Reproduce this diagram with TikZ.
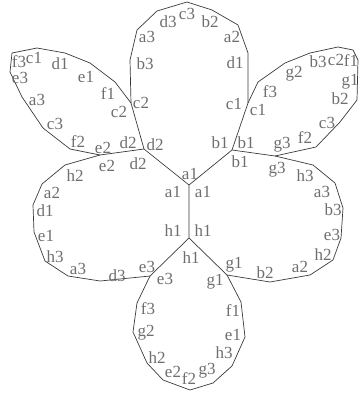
\documentclass[tikz,border=0pt]{standalone}
\usepackage{fontspec}
\setmainfont{Liberation Serif}
\usepackage{tikz}
\definecolor{flink}{HTML}{3A3A3A}
\definecolor{flgrey}{HTML}{6E6E6E}

\begin{document}
\begin{tikzpicture}[
  x=1pt,y=-1pt,
  edge/.style={draw=flink,line width=0.7pt,line join=round},
  lbl/.style={text=flgrey,inner sep=0pt,font=\fontsize{17}{17}\selectfont}
]
\useasboundingbox (0,0) rectangle (360,393);
% junctions and shared corners
\coordinate (a) at (189,185);
\coordinate (h) at (189,238);
\coordinate (d) at (144,149);
\coordinate (b) at (232,150);
\coordinate (e) at (150,276);
\coordinate (g) at (227,275);
\coordinate (c2) at (131,103);
\coordinate (c1) at (248,103);
\coordinate (e2) at (100,155);
\coordinate (g3) at (275,156);
% top petal
\coordinate (tb3) at (130,60);
\coordinate (ta3) at (137,30);
\coordinate (td3) at (157,11);
\coordinate (tc3) at (187,2);
\coordinate (tb2) at (212,10);
\coordinate (ta2) at (238,25);
\coordinate (td1) at (248,53);
% upper left petal
\coordinate (ulf1) at (115,82);
\coordinate (ule1) at (90,63);
\coordinate (uld1) at (65,53);
\coordinate (ulc1) at (37,48);
\coordinate (ulf3) at (12,53);
\coordinate (ule3) at (10,72);
\coordinate (ula3) at (22,97);
\coordinate (ulc3) at (43,128);
\coordinate (ulf2) at (70,149);
% left petal
\coordinate (lh2) at (65,165);
\coordinate (la2) at (42,184);
\coordinate (ld1) at (33,205);
\coordinate (le1) at (34,232);
\coordinate (lh3) at (45,261);
\coordinate (la3) at (68,276);
\coordinate (ld3) at (100,281);
% bottom petal
\coordinate (btf3) at (137,303);
\coordinate (btg2) at (133,332);
\coordinate (bth2) at (147,363);
\coordinate (bte2) at (163,380);
\coordinate (btf2) at (190,390);
\coordinate (btg3) at (213,383);
\coordinate (bth3) at (232,366);
\coordinate (bte1) at (245,337);
\coordinate (btf1) at (241,302);
% right petal
\coordinate (rb2) at (270,282);
\coordinate (ra2) at (310,275);
\coordinate (rh2) at (333,260);
\coordinate (re3) at (341,238);
\coordinate (rb3) at (343,208);
\coordinate (ra3) at (335,183);
\coordinate (rh3) at (313,165);
% upper right petal
\coordinate (urf2) at (316,147);
\coordinate (urc3) at (340,122);
\coordinate (urb2) at (357,100);
\coordinate (urg1) at (358,60);
\coordinate (urf1) at (353,50);
\coordinate (urc2) at (338,47);
\coordinate (urb3) at (310,53);
\coordinate (urg2) at (285,63);
\coordinate (urf3) at (258,82);

\draw[edge] (d) -- (c2) -- (tb3) -- (ta3) -- (td3) -- (tc3) -- (tb2) -- (ta2) -- (td1) -- (c1) -- (b) -- (a) -- (d) -- (e2)
  -- (lh2) -- (la2) -- (ld1) -- (le1) -- (lh3) -- (la3) -- (ld3) -- (e) -- (h) -- (a);
\draw[edge] (c2) -- (ulf1) -- (ule1) -- (uld1) -- (ulc1) -- (ulf3) -- (ule3) -- (ula3) -- (ulc3) -- (ulf2) -- (e2);
\draw[edge] (e) -- (btf3) -- (btg2) -- (bth2) -- (bte2) -- (btf2) -- (btg3) -- (bth3) -- (bte1) -- (btf1) -- (g) -- (h);
\draw[edge] (g) -- (rb2) -- (ra2) -- (rh2) -- (re3) -- (rb3) -- (ra3) -- (rh3) -- (g3) -- (b);
\draw[edge] (g3) -- (urf2) -- (urc3) -- (urb2) -- (urg1) -- (urf1) -- (urc2) -- (urb3) -- (urg2) -- (urf3) -- (c1);

% corner labels, face by face
\foreach \t/\x/\y in {c2/141/103,b3/145/64,a3/147/37,d3/168/22,c3/187/14,b2/210/22,
  a2/232/37,d1/235/63,c1/234/104,b1/220/143,a1/190/174,d2/155/145}
  \node[lbl] (top-\t) at (\x,\y) {\t};
\foreach \t/\x/\y in {f3/19/62,c1/34/58,d1/60/64,e1/86/77,f1/108/94,c2/119/112,d2/128/143,
  e2/103/148,f2/78/142,c3/55/124,a3/37/100,e3/20/78}
  \node[lbl] (ul-\t) at (\x,\y) {\t};
\foreach \t/\x/\y in {e2/107/166,d2/138/164,a1/173/192,h1/173/231,e3/147/267,d3/117/276,
  a3/78/269,h3/55/257,e1/46/236,d1/45/211,a2/52/193,h2/75/176}
  \node[lbl] (l-\t) at (\x,\y) {\t};
\foreach \t/\x/\y in {e3/165/279,f3/148/309,g2/146/333,h2/157/358,e2/173/372,f2/189/379,
  g3/207/371,h3/224/353,e1/233/335,f1/233/311,g1/215/282,h1/191/258}
  \node[lbl] (bt-\t) at (\x,\y) {\t};
\foreach \t/\x/\y in {g1/234/265,b2/265/273,a2/300/267,h2/323/255,e3/332/235,b3/333/210,
  a3/322/192,h3/305/176,g3/277/170,b1/240/162,a1/203/192,h1/203/231}
  \node[lbl] (r-\t) at (\x,\y) {\t};
\foreach \t/\x/\y in {b1/246/143,g3/282/145,f2/305/138,c3/327/123,b2/340/99,g1/350/82,
  f1/351/61,c2/336/60,b3/318/62,g2/294/74,f3/270/92,c1/258/110}
  \node[lbl] (ur-\t) at (\x,\y) {\t};
\end{tikzpicture}
\end{document}
